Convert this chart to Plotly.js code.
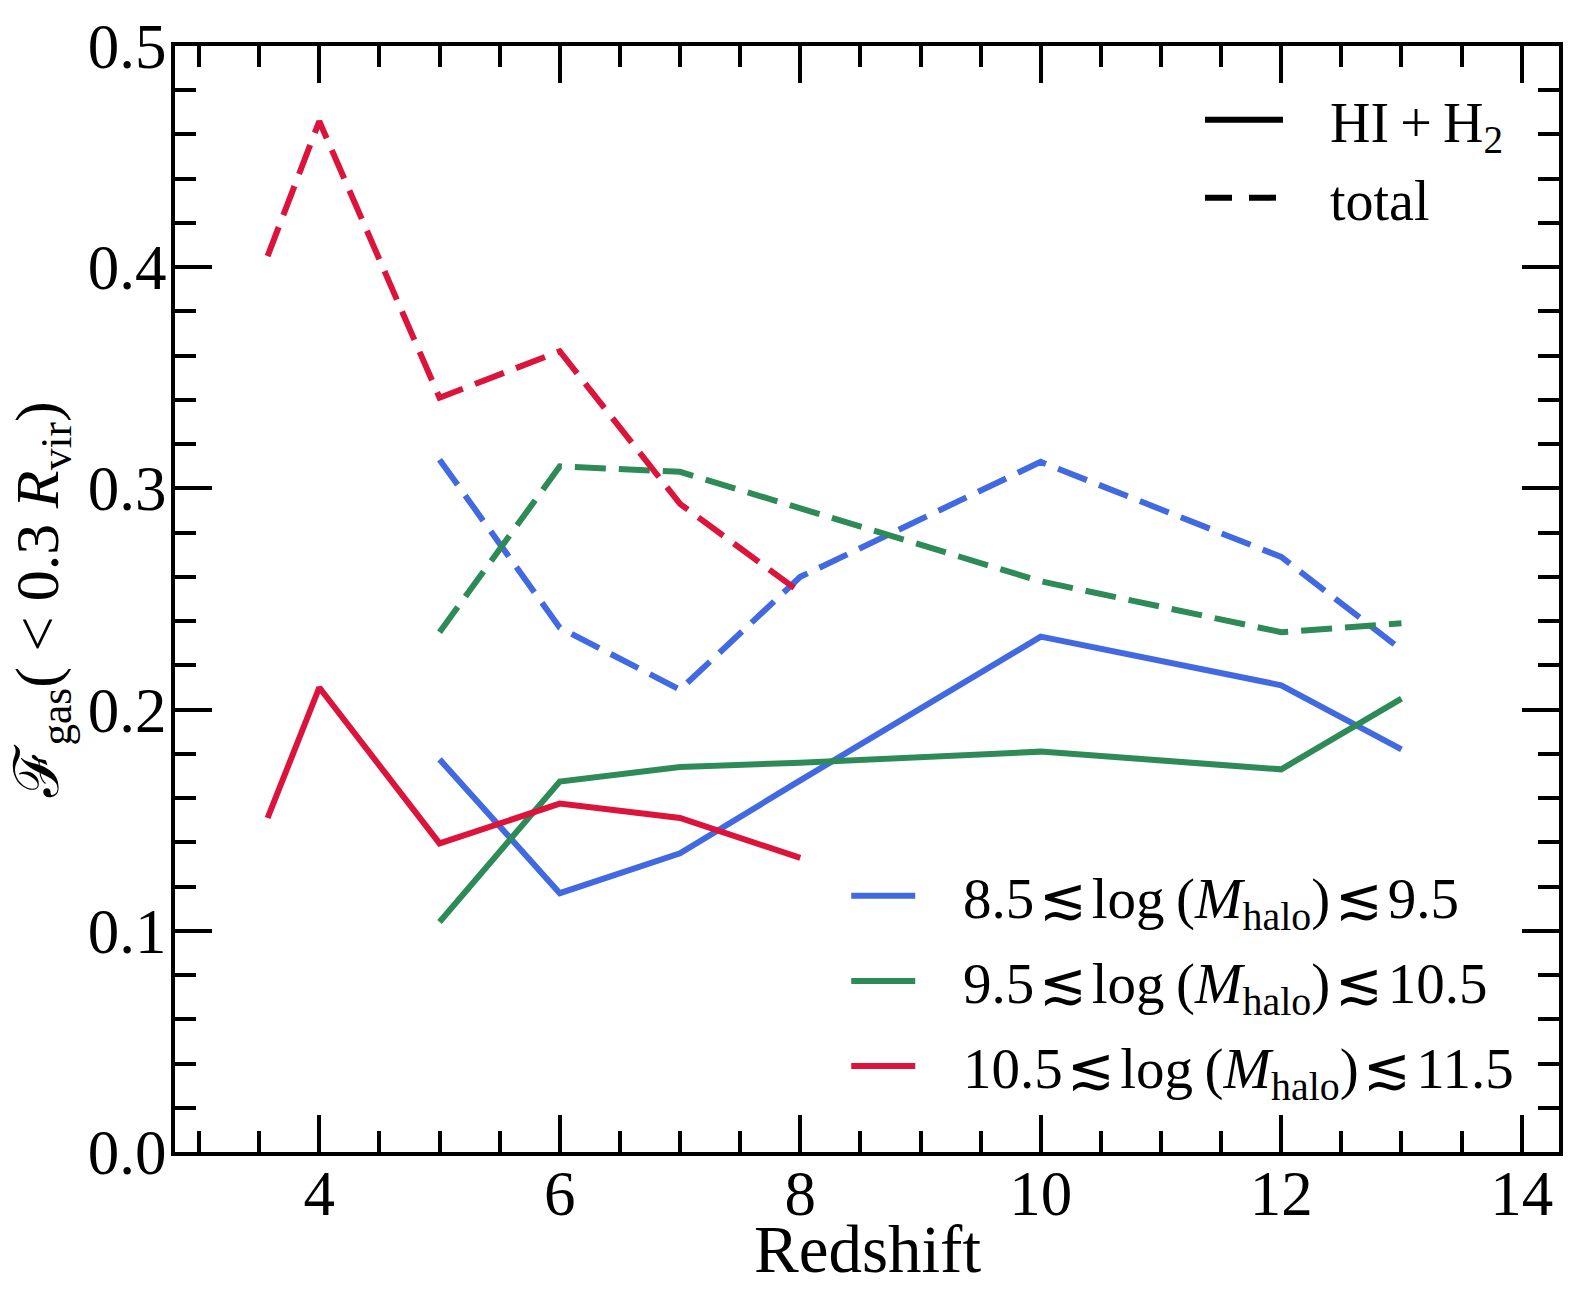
<!DOCTYPE html>
<html>
<head>
<meta charset="utf-8">
<script src="https://cdn.plot.ly/plotly-3.0.1.min.js"></script>
<style>
  html, body { margin: 0; padding: 0; background: #fff; }
  #chart { width: 1578px; height: 1302px; }
</style>
</head>
<body>
<div id="chart"></div>
<script>
// redshift samples for each mass bin
const zLow = [5, 6, 7, 8, 10, 12, 13];
const zMid = [5, 6, 7, 8, 10, 12, 13];
const zHigh = [3.57, 4, 5, 6, 7, 8];

// HI + H2 (solid)
const coldLow = [0.1775, 0.117, 0.135, 0.168, 0.233, 0.211, 0.182];
const coldMid = [0.104, 0.1675, 0.174, 0.176, 0.181, 0.173, 0.205];
const coldHigh = [0.151, 0.210, 0.1395, 0.1575, 0.151, 0.133];

// total (dashed)
const totLow = [0.313, 0.237, 0.209, 0.260, 0.312, 0.269, 0.227];
const totMid = [0.235, 0.310, 0.3075, 0.291, 0.258, 0.235, 0.239];
const totHigh = [0.405, 0.466, 0.341, 0.362, 0.293, 0.253];

const binLabels = [
    '8.5\u200a≲\u200alog\u2009(<i>M</i><sub>halo</sub>)\u200a≲\u200a9.5',
    '9.5\u200a≲\u200alog\u2009(<i>M</i><sub>halo</sub>)\u200a≲\u200a10.5',
    '10.5\u200a≲\u200alog\u2009(<i>M</i><sub>halo</sub>)\u200a≲\u200a11.5'
];
const styleLabels = ['HI\u2009+\u2009H<sub>2</sub>', 'total'];

const colors = ['#4169e1', '#2e8b57', '#dc143c'];
const dashStyle = '31px,13px';
const lw = 6;
const pad = '\u00a0\u00a0\u00a0';

function line(x, y, color, dash) {
    return {
        x: x, y: y, type: 'scatter', mode: 'lines',
        line: { color: color, width: lw, dash: dash },
        showlegend: false, hoverinfo: 'skip'
    };
}

const traces = [
    line(zLow, totLow, colors[0], dashStyle),
    line(zMid, totMid, colors[1], dashStyle),
    line(zHigh, totHigh, colors[2], dashStyle),
    line(zLow, coldLow, colors[0], 'solid'),
    line(zMid, coldMid, colors[1], 'solid'),
    line(zHigh, coldHigh, colors[2], 'solid')
];

// legend entries: line styles (top right)
styleLabels.forEach((lab, i) => {
    traces.push({
        x: [null], y: [null], type: 'scatter', mode: 'lines', name: pad + lab,
        line: { color: 'black', width: lw, dash: i === 0 ? 'solid' : '27px,17px' },
        legend: 'legend', legendgroup: 's' + i
    });
});
// legend entries: mass bins (bottom right)
binLabels.forEach((lab, i) => {
    traces.push({
        x: [null], y: [null], type: 'scatter', mode: 'lines', name: pad + lab,
        line: { color: colors[i], width: lw },
        legend: 'legend2', legendgroup: 'b' + i
    });
});

const font = { family: 'Liberation Serif, Times New Roman, serif', color: 'black' };

const axisCommon = {
    showline: true, linecolor: 'black', linewidth: 4, mirror: 'ticks',
    ticks: 'inside', ticklen: 37, tickwidth: 4, tickcolor: 'black',
    showgrid: false, zeroline: false,
    tickfont: Object.assign({ size: 63 }, font)
};

const layout = {
    width: 1578, height: 1302,
    margin: { l: 175, r: 19, t: 46, b: 150 },
    paper_bgcolor: 'white', plot_bgcolor: 'white',
    font: font,
    xaxis: Object.assign({}, axisCommon, {
        range: [2.80, 14.31], dtick: 2, tick0: 0,
        ticklabelstandoff: -17,
        minor: { dtick: 0.5, ticklen: 21, tickwidth: 4, ticks: 'inside', tickcolor: 'black' }
    }),
    yaxis: Object.assign({}, axisCommon, {
        range: [0, 0.5], dtick: 0.1, tick0: 0, tickformat: '.1f',
        ticklabelstandoff: -8,
        minor: { dtick: 0.02, ticklen: 21, tickwidth: 4, ticks: 'inside', tickcolor: 'black' },
        title: { text: 'ℱ<sub>gas</sub>( &lt; 0.3 <i>R</i><sub>vir</sub>)', font: Object.assign({ size: 62 }, font), standoff: 10 }
    }),
    annotations: [{
        text: 'Redshift', xref: 'paper', yref: 'paper', x: 0.5, y: -0.0877,
        xanchor: 'center', yanchor: 'middle', showarrow: false,
        font: Object.assign({ size: 67 }, font)
    }],
    legend: {
        x: 0.7406, y: 0.972, xanchor: 'left', yanchor: 'top',
        bgcolor: 'rgba(0,0,0,0)', font: Object.assign({ size: 56 }, font),
        tracegroupgap: 2, itemwidth: 78, traceorder: 'grouped'
    },
    legend2: {
        x: 0.485, y: 0.271, xanchor: 'left', yanchor: 'top',
        bgcolor: 'rgba(0,0,0,0)', font: Object.assign({ size: 57 }, font),
        tracegroupgap: 8, itemwidth: 64, traceorder: 'grouped'
    },
    showlegend: true
};

Plotly.newPlot('chart', traces, layout, { staticPlot: true });
</script>
</body>
</html>
